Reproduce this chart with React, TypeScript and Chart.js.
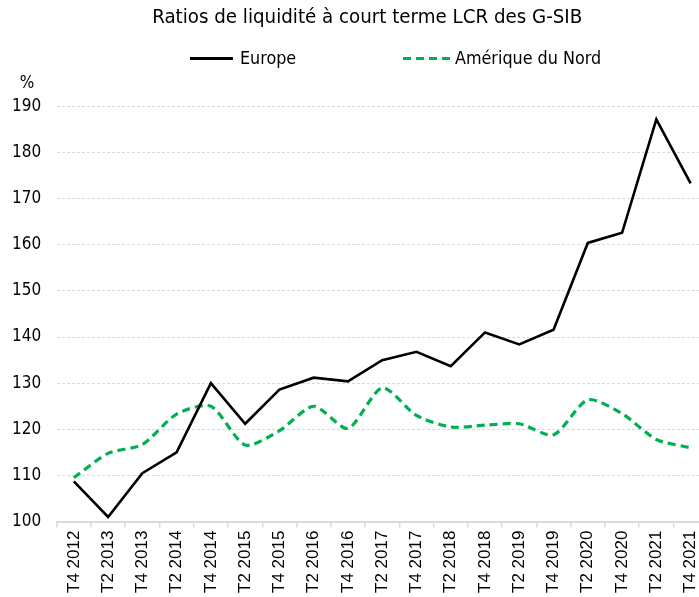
import { useEffect, useRef } from "react";
import { Chart, registerables } from "chart.js";

Chart.register(...registerables);

const categories = [
  "T4 2012", "T2 2013", "T4 2013", "T2 2014", "T4 2014", "T2 2015", "T4 2015",
  "T2 2016", "T4 2016", "T2 2017", "T4 2017", "T2 2018", "T4 2018", "T2 2019",
  "T4 2019", "T2 2020", "T4 2020", "T2 2021", "T4 2021",
];
const europe = [
  108.7, 101.0, 110.5, 115.0, 130.0, 121.2, 128.6, 131.2, 130.4, 135.0,
  136.8, 133.7, 141.0, 138.4, 141.6, 160.4, 162.6, 187.2, 173.3,
];
const northAmerica = [
  109.5, 114.8, 116.7, 123.3, 125.0, 116.6, 119.7, 125.0, 120.2, 129.0,
  123.0, 120.5, 120.9, 121.2, 118.8, 126.4, 123.4, 117.8, 116.0,
];
const seriesNames = ["Europe", "Amérique du Nord"];
const titleText = "Ratios de liquidité à court terme LCR des G-SIB";
const unitLabel = "%";
const yMin = 100;
const yMax = 190;
const yStep = 10;

const COND = "'DejaVu Sans Condensed', 'Liberation Sans', sans-serif";
const SANS = "'Liberation Sans', Arial, sans-serif";
const GREEN = "#00b050";

const overlayPlugin = {
  id: "overlay",
  afterDraw(chart: any) {
    const ctx = chart.ctx as CanvasRenderingContext2D;
    const ds = chart.data.datasets;
    ctx.save();
    const items = [
      { x0: 190, x1: 233, tx: 240 },
      { x0: 403, x1: 451, tx: 455 },
    ];
    const ly = 58.5;
    items.forEach((it, i) => {
      const d = ds[i];
      ctx.beginPath();
      ctx.strokeStyle = d.borderColor;
      ctx.lineWidth = 3;
      ctx.setLineDash(d.borderDash || []);
      ctx.moveTo(it.x0, ly);
      ctx.lineTo(it.x1, ly);
      ctx.stroke();
      ctx.setLineDash([]);
      ctx.fillStyle = "#000";
      ctx.font = `17.8px ${COND}`;
      ctx.textAlign = "left";
      ctx.textBaseline = "middle";
      ctx.fillText(d.label, it.tx, ly + 0.5);
    });
    ctx.font = `17px ${COND}`;
    ctx.textAlign = "center";
    ctx.textBaseline = "middle";
    ctx.fillText(unitLabel, 27, 84);
    ctx.restore();
  },
};

export default function App() {
  const ref = useRef<HTMLCanvasElement | null>(null);

  useEffect(() => {
    if (!ref.current) return;
    const chart = new Chart(ref.current, {
      type: "line",
      data: {
        labels: categories,
        datasets: [
          {
            label: seriesNames[0],
            data: europe,
            borderColor: "#000000",
            backgroundColor: "#000000",
            borderWidth: 2.6,
            pointRadius: 0,
            tension: 0,
          },
          {
            label: seriesNames[1],
            data: northAmerica,
            borderColor: GREEN,
            backgroundColor: GREEN,
            borderWidth: 3.2,
            borderDash: [8, 5],
            pointRadius: 0,
            tension: 0.25,
          },
        ],
      },
      options: {
        animation: false,
        responsive: false,
        maintainAspectRatio: false,
        layout: { padding: { left: 20.4, right: 0, top: 0, bottom: 0 } },
        plugins: {
          legend: { display: false },
          tooltip: { enabled: false },
          title: {
            display: true,
            text: titleText,
            color: "#000",
            font: { family: COND, size: 20.3, weight: "normal" },
            padding: { top: 6, bottom: 76 },
          },
        },
        scales: {
          x: {
            offset: true,
            afterFit: (s: any) => {
              s.height = 75.4;
            },
            grid: {
              offset: true,
              drawOnChartArea: false,
              drawTicks: true,
              tickLength: 6,
              color: "#d9d9d9",
              lineWidth: 1.5,
            },
            border: { display: true, color: "#d9d9d9", width: 2 },
            ticks: {
              color: "#000",
              font: { family: SANS, size: 17 },
              minRotation: 90,
              maxRotation: 90,
              autoSkip: false,
              padding: 3,
            },
          },
          y: {
            min: yMin,
            max: yMax,
            afterFit: (s: any) => {
              s.width = 36.3;
            },
            grid: {
              drawTicks: false,
              color: "#d9d9d9",
              lineWidth: 1,
            },
            border: { display: false, dash: [3, 2] },
            ticks: {
              stepSize: yStep,
              color: "#000",
              font: { family: COND, size: 17 },
              mirror: true,
              crossAlign: "near",
              padding: -44.7,
            },
          },
        },
      },
      plugins: [overlayPlugin],
    });
    return () => chart.destroy();
  }, []);

  return (
    <div style={{ position: "absolute", left: 0, top: 0, width: 714, height: 597 }}>
      <canvas ref={ref} width={714} height={597} style={{ width: 714, height: 597 }} />
    </div>
  );
}
